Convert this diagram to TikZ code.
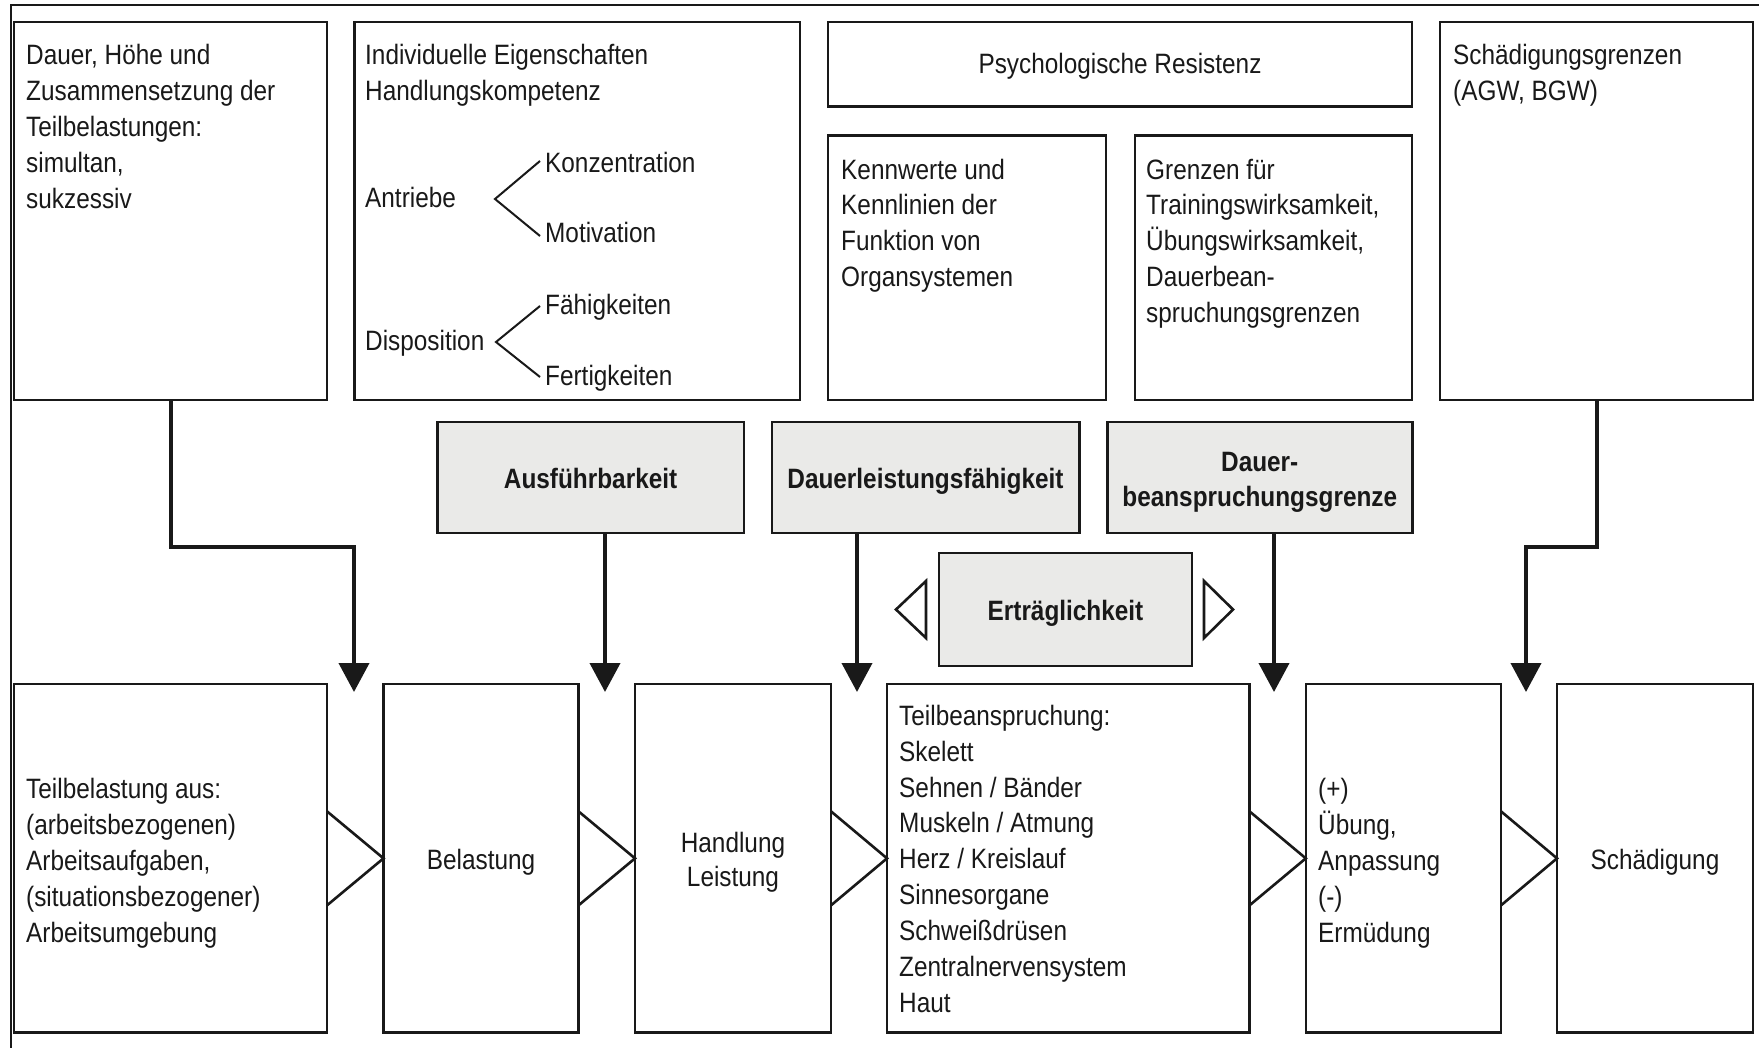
\documentclass[tikz,border=0pt]{standalone}
\usepackage{fontspec}
\setmainfont{Liberation Sans}[FakeStretch=0.87]
\usetikzlibrary{arrows.meta}
\definecolor{boxgray}{RGB}{234,234,232}
\definecolor{ink}{RGB}{25,25,25}
\newcommand\fl{\rule{0pt}{26pt}}
\begin{document}
\begin{tikzpicture}[x=1pt,y=-1pt,
  box/.style={draw=ink, line width=2.6pt, inner sep=0pt, outer sep=0pt, anchor=north west},
  gbox/.style={box, fill=boxgray},
  txt/.style={inner sep=0pt, anchor=north west, align=left, text=ink, font=\fontsize{28}{36}\selectfont},
  ctxt/.style={inner sep=0pt, text=ink, font=\fontsize{28}{36}\selectfont},
  btxt/.style={inner sep=0pt, text=ink, font=\fontsize{28}{35}\selectfont\bfseries},
  arr/.style={draw=ink, line width=4pt, -{Triangle[width=30pt,length=29pt]}},
  tri/.style={draw=ink, line width=2.6pt, line join=miter},
  brk/.style={draw=ink, line width=2pt, line join=miter},
  frame/.style={draw=ink, line width=1.8pt}]
\useasboundingbox (0,0) rectangle (1759,1048);
\fill[white] (0,0) rectangle (1759,1048);
% outer frame
\coordinate (fa) at (1759,5);
\coordinate (fb) at (11,5);
\coordinate (fc) at (11,1048);
\draw[frame] (fa) -- (fb) -- (fc);

% top row
\node[box, minimum width=313pt, minimum height=378pt] (b1) at (14,22) {};
\node[box, minimum width=445.5pt, minimum height=378pt] (b2) at (354.5,22) {};
\node[box, minimum width=584pt, minimum height=84.6pt] (b3) at (828,22) {};
\node[box, minimum width=278pt, minimum height=264.5pt] (b4) at (828,135.5) {};
\node[box, minimum width=277pt, minimum height=264.5pt] (b5) at (1135,135.5) {};
\node[box, minimum width=313pt, minimum height=378pt] (b6) at (1440,22) {};

\node[txt] (b1t) at (26,38) {\fl Dauer, Höhe und\\Zusammensetzung der\\Teilbelastungen:\\simultan,\\sukzessiv};
\node[txt] (b2t) at (365,38) {\fl Individuelle Eigenschaften\\Handlungskompetenz};
\node[ctxt, anchor=base west] (antr) at (365,208) {Antriebe};
\node[ctxt, anchor=base west] (disp) at (365,351) {Disposition};
\node[ctxt, anchor=base west] (konz) at (545,173) {Konzentration};
\node[ctxt, anchor=base west] (moti) at (545,243) {Motivation};
\node[ctxt, anchor=base west] (faeh) at (545,315) {Fähigkeiten};
\node[ctxt, anchor=base west] (fert) at (545,385) {Fertigkeiten};
\coordinate (av) at (495,199);
\coordinate (au) at (540,161);
\coordinate (ad) at (540,236);
\coordinate (dv) at (496,342);
\coordinate (du) at (540,306);
\coordinate (dd) at (540,377);
\draw[brk] (au) -- (av) -- (ad);
\draw[brk] (du) -- (dv) -- (dd);

\node[ctxt, anchor=base] (b3t) at (1120,74) {Psychologische Resistenz};
\node[txt, font=\fontsize{28}{35.8}\selectfont] (b4t) at (841,153) {\fl Kennwerte und\\Kennlinien der\\Funktion von\\Organsystemen};
\node[txt, font=\fontsize{28}{35.8}\selectfont] (b5t) at (1146,153) {\fl Grenzen für\\Trainingswirksamkeit,\\Übungswirksamkeit,\\Dauerbean-\\spruchungsgrenzen};
\node[txt] (b6t) at (1453,38) {\fl Schädigungsgrenzen\\(AGW, BGW)};

% gray row
\node[gbox, minimum width=306.3pt, minimum height=111pt] (g1) at (437.5,422) {};
\node[gbox, minimum width=307.4pt, minimum height=111pt] (g2) at (771.8,422) {};
\node[gbox, minimum width=305.1pt, minimum height=111pt] (g3) at (1107.2,422) {};
\node[gbox, minimum width=253pt, minimum height=113pt] (g4) at (939,553) {};
\node[btxt, anchor=base] (g1t) at (590.6,488) {Ausführbarkeit};
\node[btxt, anchor=base] (g2t) at (925.5,488) {Dauerleistungsfähigkeit};
\node[btxt, anchor=north, align=center] (g3t) at (1259.75,445) {\fl Dauer-\\beanspruchungsgrenze};
\node[btxt, anchor=base] (g4t) at (1065.5,620) {Erträglichkeit};
% side triangles of Ertraeglichkeit
\coordinate (lt) at (896,609.5);
\coordinate (lu) at (926,581);
\coordinate (ld) at (926,638);
\coordinate (rt) at (1233,609.5);
\coordinate (ru) at (1204,581);
\coordinate (rd) at (1204,638);
\draw[tri] (lt) -- (lu) -- (ld) -- cycle;
\draw[tri] (rt) -- (ru) -- (rd) -- cycle;

% bottom row
\node[box, minimum width=313pt, minimum height=348.7pt] (c1) at (14,684) {};
\node[box, minimum width=195pt, minimum height=348.7pt] (c2) at (383.5,684) {};
\node[box, minimum width=196pt, minimum height=348.7pt] (c3) at (635,684) {};
\node[box, minimum width=362.5pt, minimum height=348.7pt] (c4) at (887,684) {};
\node[box, minimum width=195.2pt, minimum height=348.7pt] (c5) at (1305.8,684) {};
\node[box, minimum width=196pt, minimum height=348.7pt] (c6) at (1557,684) {};

\node[txt] (c1t) at (26,772) {\fl Teilbelastung aus:\\(arbeitsbezogenen)\\Arbeitsaufgaben,\\(situationsbezogener)\\Arbeitsumgebung};
\node[ctxt, anchor=base] (c2t) at (481,869) {Belastung};
\node[ctxt, anchor=north, align=center, font=\fontsize{28}{34}\selectfont] (c3t) at (733,826) {\fl Handlung\\Leistung};
\node[txt, font=\fontsize{28}{35.9}\selectfont] (c4t) at (899,699) {\fl Teilbeanspruchung:\\Skelett\\Sehnen / Bänder\\Muskeln / Atmung\\Herz / Kreislauf\\Sinnesorgane\\Schweißdrüsen\\Zentralnervensystem\\Haut};
\node[txt] (c5t) at (1318,772) {\fl (+)\\Übung,\\Anpassung\\(-)\\Ermüdung};
\node[ctxt, anchor=base] (c6t) at (1655,869) {Schädigung};

% open triangles between bottom boxes
\foreach \a/\b in {c1/c2,c2/c3,c3/c4,c4/c5,c5/c6}{
  \draw[tri] ([yshift=47pt]\a.east) -- (\b.west) -- ([yshift=-47pt]\a.east);
}

% arrows
\coordinate (t1) at (354,692);
\coordinate (t2) at (605,692);
\coordinate (t3) at (857,692);
\coordinate (t4) at (1274,692);
\coordinate (t5) at (1526,692);
\coordinate (h1) at (170.5,547);
\coordinate (h5) at (1596.5,547);
\draw[arr] (b1.south) -- (h1) -| (t1);
\draw[arr] (g1.south -| t2) -- (t2);
\draw[arr] (g2.south -| t3) -- (t3);
\draw[arr] (g3.south -| t4) -- (t4);
\draw[arr] (b6.south) -- (h5) -| (t5);
\end{tikzpicture}
\end{document}
